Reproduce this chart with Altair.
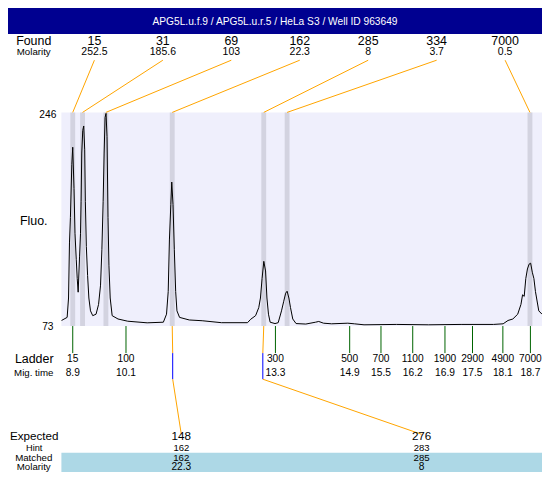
import altair as alt
import pandas as pd

# ---------------- data ----------------
title = "APG5L.u.f.9 / APG5L.u.r.5 / HeLa S3 / Well ID 963649"

found_size = [15, 31, 69, 162, 285, 334, 7000]
found_molarity = ["252.5", "185.6", "103", "22.3", "8", "3.7", "0.5"]
found_time = [8.93, 9.14, 9.64, 11.06, 13.02, 13.52, 18.72]

ladder_size = [15, 100, 300, 500, 700, 1100, 1900, 2900, 4900, 7000]
ladder_time = [8.93, 10.07, 13.27, 14.86, 15.53, 16.21, 16.90, 17.49, 18.14, 18.73]

expected_size = [148, 276]
expected_hint = [162, 283]
expected_matched = [162, 285]
expected_molarity = ["22.3", "8"]
expected_peak_time = [11.06, 13.02]
expected_mark_time = [11.07, 13.00]

trace_time = [8.69, 8.81, 8.84, 8.86, 8.88, 8.91, 8.93, 8.957, 8.978, 9.005, 9.026, 9.046,
              9.076, 9.096, 9.109, 9.123, 9.144, 9.165, 9.186, 9.20, 9.221, 9.248, 9.275,
              9.31, 9.358, 9.429, 9.483, 9.525, 9.554, 9.581, 9.602, 9.622, 9.643, 9.664,
              9.685, 9.705, 9.732, 9.774, 9.899, 10.107, 10.523, 10.87, 10.938, 10.974,
              11.0, 11.03, 11.05, 11.077, 11.105, 11.134, 11.161, 11.217, 11.425, 11.701,
              12.117, 12.672, 12.741, 12.845, 12.913, 12.949, 12.984, 13.021, 13.059,
              13.088, 13.121, 13.157, 13.261, 13.329, 13.40, 13.448, 13.489, 13.52, 13.558,
              13.593, 13.641, 13.712, 13.92, 14.128, 14.197, 14.30, 14.473, 14.82, 14.959,
              15.167, 15.859, 16.552, 17.246, 17.938, 18.146, 18.25, 18.354, 18.458,
              18.527, 18.562, 18.597, 18.631, 18.666, 18.701, 18.735, 18.77, 18.805,
              18.838, 18.909, 18.978]
trace_fluo = [77.5, 80.0, 95.7, 140.3, 160.9, 204.0, 217.8, 184.4, 148.1, 127.0, 111.4, 100.4,
              129.6, 148.1, 174.0, 213.1, 231.4, 235.0, 215.7, 174.0, 137.4, 113.9, 95.7,
              85.3, 81.4, 82.6, 90.5, 106.1, 134.8, 174.0, 213.1, 241.9, 245.2, 226.4,
              160.9, 121.8, 95.7, 81.4, 78.7, 76.9, 75.6, 76.1, 82.6, 100.9,
              142.7, 171.4, 189.6, 171.4, 134.8, 100.9, 85.3, 80.0, 77.9, 77.3,
              75.7, 75.7, 78.5, 81.4, 87.9, 95.7, 111.4, 125.4, 117.6,
              95.7, 82.6, 76.1, 75.0, 75.7, 85.3, 93.1, 99.6, 101.2, 95.7,
              87.9, 78.7, 75.0, 74.6, 76.1, 76.7, 75.3, 74.8, 75.3, 74.8,
              74.0, 74.3, 74.0, 74.3, 74.3, 74.8, 77.5, 78.7, 82.6,
              90.5, 98.3, 97.0, 111.4, 119.2, 123.1, 123.9, 116.6, 111.4,
              100.9, 85.3, 82.6]

y_min, y_max = 73, 246
x_domain = [8.687, 18.978]

# ---------------- layout ----------------
W, H = 534, 464
SX, SY = W / 550, H / 480
FONT = "Liberation Sans"


def X(p):
    return p * SX


def Y(p):
    return p * SY


xs = alt.Scale(domain=x_domain, range=[X(55), X(550)], nice=False, zero=False)
ys = alt.Scale(domain=[y_min, y_max], range=[Y(329), Y(108)], nice=False, zero=False)

one = pd.DataFrame({"k": [0]})
found_df = pd.DataFrame({
    "size": found_size, "mol": found_molarity, "t": found_time,
    "lx": [X(89 + 70.5 * i) for i in range(len(found_size))],
})
ladder_df = pd.DataFrame({"size": ladder_size, "t": ladder_time})
exp_df = pd.DataFrame({
    "exp": expected_size, "hint": expected_hint, "matched": expected_matched,
    "mol": expected_molarity, "tp": expected_peak_time, "tm": expected_mark_time,
    "ex": [X(178.5), X(426)],
})
trace_df = pd.DataFrame({"t": trace_time, "f": trace_fluo})


def label(txt, px, py, fs, color="black"):
    return alt.Chart(one).mark_text(
        text=txt, font=FONT, fontSize=fs * SX, color=color, align="center", baseline="middle"
    ).encode(x=alt.value(X(px)), y=alt.value(Y(py)))


xt = alt.X("t:Q", scale=xs, axis=None)

header = alt.Chart(one).mark_rect(color="#000090").encode(
    x=alt.value(0), x2=alt.value(W), y=alt.value(0), y2=alt.value(Y(27)))

plot_bg = alt.Chart(one).mark_rect(color="#EFEFFC").encode(
    x=alt.X(datum=x_domain[0], scale=xs, axis=None), x2=alt.X2(datum=x_domain[1]),
    y=alt.Y(datum=y_min, scale=ys, axis=None), y2=alt.Y2(datum=y_max))

bands = alt.Chart(found_df).mark_rule(color="#D3D3E0", strokeWidth=5 * SX).encode(
    x=xt, y=alt.Y(datum=y_min, scale=ys, axis=None), y2=alt.Y2(datum=y_max))

trace = alt.Chart(trace_df).mark_line(color="black", strokeWidth=1).encode(
    x=xt, y=alt.Y("f:Q", scale=ys, axis=None))

found_lines = alt.Chart(found_df).mark_rule(color="#FFA500", strokeWidth=1).encode(
    x=xt, x2=alt.value(alt.ExprRef(expr="datum.lx")),
    y=alt.Y(datum=y_max, scale=ys, axis=None), y2=alt.value(Y(54)))

found_size_t = alt.Chart(found_df).mark_text(
    font=FONT, fontSize=12.8 * SX, color="black", align="center", baseline="middle"
).encode(x=alt.value(alt.ExprRef(expr="datum.lx")), y=alt.value(Y(34)), text="size:N")
found_mol_t = alt.Chart(found_df).mark_text(
    font=FONT, fontSize=10.8 * SX, color="black", align="center", baseline="middle"
).encode(x=alt.value(alt.ExprRef(expr="datum.lx")), y=alt.value(Y(46)), text="mol:N")

ladder_ticks = alt.Chart(ladder_df).mark_rule(color="#006400", strokeWidth=1).encode(
    x=xt, y=alt.Y(datum=y_min, scale=ys, axis=None), y2=alt.value(Y(357)))
ladder_t = alt.Chart(ladder_df).mark_text(
    font=FONT, fontSize=10.5 * SX, color="black", align="center", baseline="middle"
).encode(x=xt, y=alt.value(Y(363)), text="size:N")
mig_t = alt.Chart(ladder_df).mark_text(
    font=FONT, fontSize=10.5 * SX, color="black", align="center", baseline="middle"
).encode(x=xt, y=alt.value(Y(377.5)), text=alt.Text("t:Q", format=".1f"))

xp = alt.X("tp:Q", scale=xs, axis=None)
xm = alt.X("tm:Q", scale=xs, axis=None)
exp_line1 = alt.Chart(exp_df).mark_rule(color="#FFA500", strokeWidth=1).encode(
    x=xp, x2=alt.X2("tm:Q"), y=alt.Y(datum=y_min, scale=ys, axis=None), y2=alt.value(Y(357)))
exp_blue = alt.Chart(exp_df).mark_rule(color="#0000FF", strokeWidth=1).encode(
    x=xm, y=alt.value(Y(357)), y2=alt.value(Y(384)))
exp_line2 = alt.Chart(exp_df).mark_rule(color="#FFA500", strokeWidth=1).encode(
    x=xm, x2=alt.value(alt.ExprRef(expr="datum.ex")), y=alt.value(Y(384)), y2=alt.value(Y(441)))

match_bg = alt.Chart(one).mark_rect(color="#ADD8E6").encode(
    x=alt.value(X(55)), x2=alt.value(W), y=alt.value(Y(460)), y2=alt.value(H))


def exp_row(field, py, fs):
    return alt.Chart(exp_df).mark_text(
        font=FONT, fontSize=fs * SX, color="black", align="center", baseline="middle"
    ).encode(x=alt.value(alt.ExprRef(expr="datum.ex")), y=alt.value(Y(py)), text=f"{field}:N")


layers = [
    header, plot_bg, bands, trace, found_lines, ladder_ticks,
    exp_line1, exp_blue, exp_line2, match_bg,
    label(title, 275, 14.5, 10.5, "white"),
    label("Found", 26.5, 34, 12.8), label("Molarity", 26.5, 46, 10),
    found_size_t, found_mol_t,
    label(str(y_max), 41, 110.7, 10.5), label(str(y_min), 41, 330, 10.5),
    label("Fluo.", 26.5, 220, 12.8),
    label("Ladder", 27, 363, 12.8), label("Mig. time", 26.5, 377.5, 10),
    ladder_t, mig_t,
    label("Expected", 27, 443.5, 12), label("Hint", 27, 455.5, 9.5),
    label("Matched", 26.5, 465.5, 10), label("Molarity", 26.5, 475, 10),
    exp_row("exp", 443.5, 12), exp_row("hint", 455.5, 9.8),
    exp_row("matched", 465.5, 10), exp_row("mol", 475, 10.5),
]

chart = alt.layer(*layers).properties(
    width=W, height=H, padding=0,
    autosize=alt.AutoSizeParams(type="none"),
    background="white",
).configure_view(stroke=None)

chart.save("out.html", embed_options={"renderer": "svg", "actions": False})
